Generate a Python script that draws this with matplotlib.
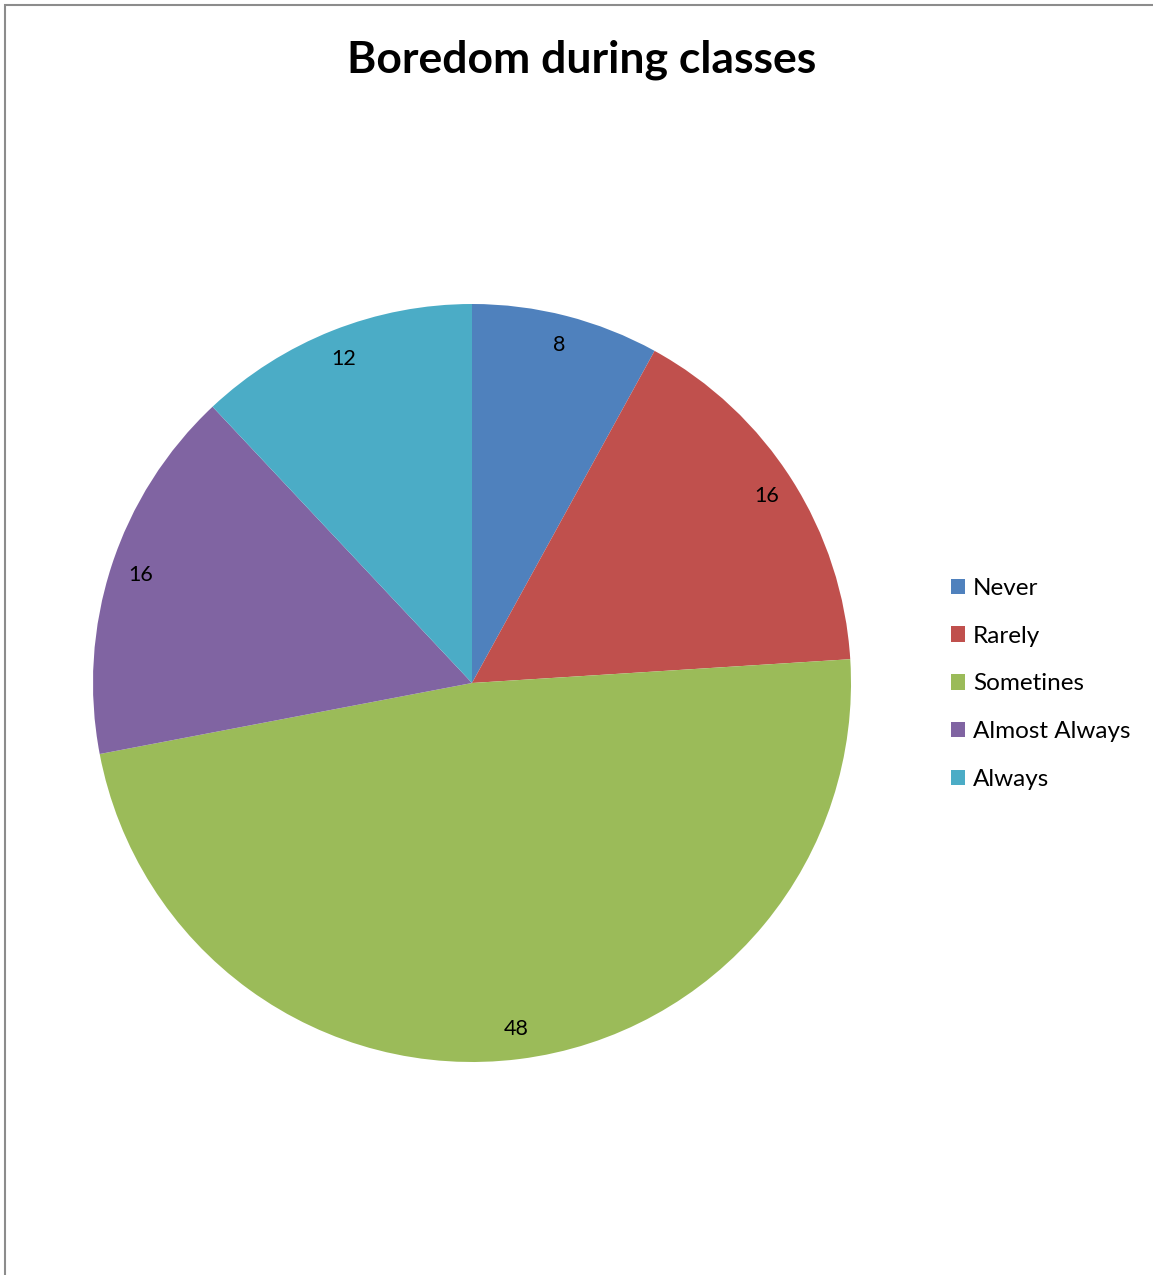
import matplotlib.pyplot as plt
from matplotlib.patches import Rectangle

# datos del grafico
categorias = ["Never", "Rarely", "Sometines", "Almost Always", "Always"]
valores = [8, 16, 48, 16, 12]
colores = ["#4F81BD", "#C0504D", "#9BBB59", "#8064A2", "#4BACC6"]

W, H = 1153, 1275
plt.rcParams['font.family'] = ['Lato', 'DejaVu Sans']

fig = plt.figure(figsize=(W / 100, H / 100), dpi=100)

# centro y radio del pie en pixeles
cx, cy, r = 472, 683, 379
ax = fig.add_axes([(cx - r) / W, (H - cy - r) / H, 2 * r / W, 2 * r / H])

total = sum(valores)
wedges, textos, pcts = ax.pie(valores, colors=colores, startangle=90, counterclock=False,
                              radius=1, autopct=lambda p: f"{p * total / 100:.0f}",
                              pctdistance=0.92, textprops={'fontsize': 15.5, 'color': 'black'},
                              wedgeprops={'linewidth': 0})
ax.set_xlim(-1, 1)
ax.set_ylim(-1, 1)
ax.set_aspect('equal')
ax.axis('off')

fig.text(582 / W, 1 - 60 / H, "Boredom during classes", ha='center', va='center',
         fontsize=32, fontweight='bold')

fig.legend(wedges, categorias, loc='center left', bbox_to_anchor=(929 / W, 1 - 684 / H),
           frameon=False, fontsize=17.5, handlelength=0.6, handleheight=0.6,
           handletextpad=0.3, labelspacing=1.1)

# borde del area del grafico
fig.patches.append(Rectangle((5 / W, -0.1), 1.2, 1 - 5 / H + 0.1, transform=fig.transFigure,
                             fill=False, edgecolor='#8c8c8c', linewidth=1.5))

fig.savefig("out.png", dpi=100)
